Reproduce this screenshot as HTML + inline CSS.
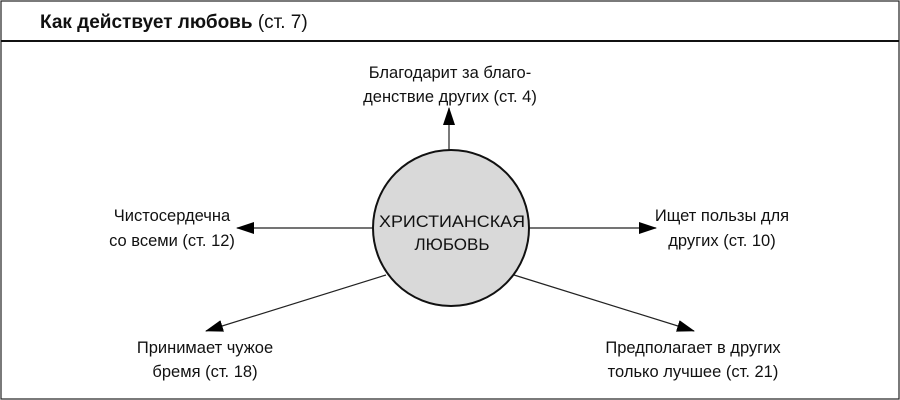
<!DOCTYPE html>
<html><head><meta charset="utf-8"><style>
html,body{margin:0;padding:0;background:#fff;}
svg{display:block;}
text{font-family:"Liberation Sans","Noto Sans CJK SC",sans-serif;fill:#111;}
</style></head><body>
<svg width="900" height="400" viewBox="0 0 900 400" xmlns="http://www.w3.org/2000/svg">
<rect x="1" y="1" width="898" height="398" fill="#fff" stroke="#222" stroke-width="1.2"/>
<line x1="1" y1="41" x2="899" y2="41" stroke="#111" stroke-width="2"/>
<text x="40" y="28" font-size="19"><tspan font-weight="bold">Как действует любовь</tspan> (ст. 7)</text>
<defs><marker id="a" markerWidth="18" markerHeight="12" refX="17" refY="6" orient="auto" markerUnits="userSpaceOnUse"><path d="M0,0 L18,6 L0,12 z" fill="#000"/></marker></defs>
<g stroke="#222" stroke-width="1.2">
<line x1="449" y1="150" x2="449" y2="108" marker-end="url(#a)"/>
<line x1="373" y1="228" x2="237" y2="228" marker-end="url(#a)"/>
<line x1="529" y1="228" x2="656" y2="228" marker-end="url(#a)"/>
<line x1="386" y1="275" x2="206" y2="331" marker-end="url(#a)"/>
<line x1="514" y1="275" x2="694" y2="331" marker-end="url(#a)"/>
</g>
<circle cx="451" cy="228" r="78" fill="#d9d9d9" stroke="#111" stroke-width="2"/>
<text x="452" y="227" font-size="17" text-anchor="middle" textLength="146" lengthAdjust="spacingAndGlyphs">ХРИСТИАНСКАЯ</text>
<text x="452" y="250" font-size="17" text-anchor="middle">ЛЮБОВЬ</text>
<g font-size="16.5" text-anchor="middle">
<text x="450" y="78">Благодарит за благо-</text>
<text x="450" y="102">денствие других (ст. 4)</text>
<text x="172" y="221">Чистосердечна</text>
<text x="172" y="246">со всеми (ст. 12)</text>
<text x="722" y="221">Ищет пользы для</text>
<text x="722" y="246">других (ст. 10)</text>
<text x="205" y="353">Принимает чужое</text>
<text x="205" y="377">бремя (ст. 18)</text>
<text x="693" y="353">Предполагает в других</text>
<text x="693" y="377">только лучшее (ст. 21)</text>
</g>
</svg>
</body></html>
